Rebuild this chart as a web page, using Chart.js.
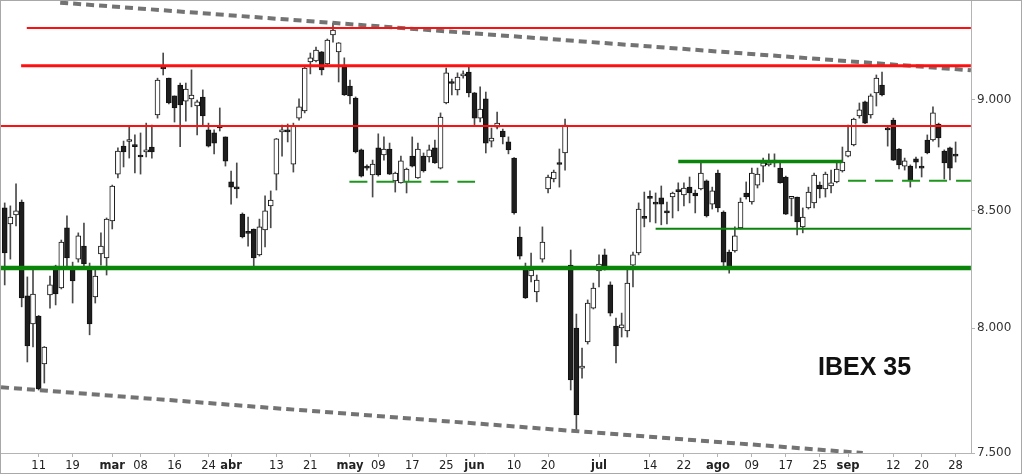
<!DOCTYPE html>
<html>
<head>
<meta charset="utf-8">
<title>IBEX 35</title>
<script src="https://cdn.jsdelivr.net/npm/chart.js@4.4.0/dist/chart.umd.min.js"></script>
<style>
  html, body { margin: 0; padding: 0; background: #fff; }
  #wrap { position: relative; width: 1024px; height: 476px; }
  #title { position: absolute; left: 818px; top: 354px; font: bold 25px/25px "Liberation Sans", Arial, sans-serif; color: #111; }
</style>
</head>
<body>
<div id="wrap">
  <canvas id="ibex" width="1024" height="476"></canvas>
  <div id="title">IBEX 35</div>
</div>
<script>
// daily candles, one per trading day (index 0 = 3 feb, 168 = 28 sep)
const opens = [8512,8442,8481,8538,8134,8017,8050,7853,8138,8260,
  8167,8425,8247,8290,8346,8243,8130,8312,8295,8455,
  8662,8788,8809,8788,8744,8762,8784,8931,9155,9102,
  9019,9070,8995,9005,8972,9014,8862,8848,8875,8830,
  8627,8598,8485,8403,8420,8308,8416,8521,8662,8853,
  8855,8707,8916,8949,9179,9183,9226,9169,9307,9226,
  9155,9065,9009,8771,8698,8658,8780,8748,8775,8632,
  8623,8627,8743,8645,8743,8739,8780,8689,8986,9079,
  9047,9112,9131,9033,8916,9005,8811,8875,8857,8807,
  8734,8385,8252,8218,8151,8290,8596,8640,8712,8757,
  8264,8000,7836,7943,8083,8239,8308,8180,8008,8000,
  7988,8264,8316,8468,8560,8534,8556,8492,8560,8591,
  8569,8604,8578,8596,8632,8529,8667,8494,8320,8325,
  8425,8578,8538,8613,8698,8703,8725,8689,8649,8554,
  8560,8429,8512,8534,8613,8596,8609,8627,8676,8743,
  8793,8926,8991,8931,9033,9070,8871,8907,8775,8698,
  8698,8730,8694,8816,8816,8889,8766,8780,8746];
const highs = [8534,8521,8618,8547,8214,8243,8052,7924,8218,8264,
  8372,8477,8277,8403,8446,8273,8256,8403,8468,8613,
  8780,8811,8875,8839,8848,8893,8884,9102,9221,9102,
  9019,9079,9079,9141,9000,9047,8893,8862,8963,8830,
  8676,8712,8490,8472,8420,8463,8565,8587,8823,8884,
  8889,8893,9005,9155,9221,9249,9228,9288,9365,9271,
  9198,9093,9014,8775,8703,8725,8844,8830,8802,8671,
  8743,8689,8830,8802,8757,8793,8816,8940,9150,9098,
  9127,9136,9155,9035,9061,9037,8871,8944,8866,8830,
  8736,8429,8273,8316,8222,8429,8658,8680,8775,8912,
  8329,8058,7918,8117,8188,8308,8333,8193,8041,8062,
  8243,8320,8534,8582,8587,8578,8609,8538,8582,8623,
  8623,8649,8591,8712,8636,8604,8680,8499,8329,8429,
  8556,8627,8689,8689,8734,8753,8753,8712,8653,8560,
  8560,8512,8604,8667,8627,8671,8680,8712,8784,8884,
  8916,8986,8995,9028,9117,9131,8880,8916,8777,8734,
  8703,8739,8739,8839,8968,8893,8771,8784,8807];
const lows = [8180,8290,8433,8088,7861,7922,7748,7776,8083,8096,
  8163,8256,8104,8277,8256,7972,8104,8264,8222,8420,
  8645,8694,8734,8667,8662,8739,8734,8916,9117,8982,
  8898,8785,8902,8968,8839,8880,8784,8753,8857,8698,
  8529,8556,8381,8346,8256,8303,8342,8425,8591,8743,
  8807,8671,8907,8940,9122,9179,9117,9165,9273,9084,
  9021,8982,8757,8649,8680,8560,8653,8725,8660,8582,
  8621,8578,8694,8643,8671,8716,8710,8685,8982,9023,
  9023,9102,9014,8884,8898,8757,8784,8866,8798,8753,
  8485,8290,8123,8193,8109,8277,8578,8627,8604,8680,
  7748,7590,7796,7934,8079,8172,8243,8050,7857,7963,
  7963,8172,8308,8429,8451,8446,8438,8442,8468,8499,
  8521,8534,8490,8591,8472,8507,8494,8260,8230,8320,
  8420,8551,8529,8600,8627,8698,8694,8621,8483,8477,
  8394,8403,8507,8512,8556,8560,8578,8623,8671,8739,
  8789,8916,8891,8916,8972,9019,8788,8723,8685,8680,
  8604,8689,8649,8753,8811,8784,8640,8636,8716];
const closes = [8316,8472,8499,8125,7926,8142,7752,7922,8180,8142,
  8363,8295,8197,8390,8269,8017,8218,8346,8463,8609,
  8766,8762,8811,8786,8739,8766,8762,9093,9146,8986,
  8963,8977,9051,9023,8991,8926,8788,8802,8871,8720,
  8604,8596,8385,8401,8295,8429,8499,8547,8821,8862,
  8853,8880,8968,9150,9198,9235,9141,9283,9331,9269,
  9023,9019,8762,8653,8689,8707,8658,8775,8662,8667,
  8721,8685,8698,8775,8676,8771,8712,8921,9127,9077,
  9107,9122,9033,8916,8958,8802,8825,8893,8830,8771,
  8490,8303,8125,8243,8201,8363,8649,8671,8705,8884,
  7788,7649,7840,8104,8167,8269,8260,8062,7926,8013,
  8188,8308,8507,8466,8554,8529,8529,8490,8578,8584,
  8600,8578,8565,8667,8477,8587,8512,8277,8256,8390,
  8538,8560,8667,8662,8712,8712,8712,8623,8485,8556,
  8451,8472,8582,8658,8596,8662,8623,8685,8716,8766,
  8912,8954,8893,9019,9102,9023,8862,8725,8703,8721,
  8636,8716,8689,8757,8940,8825,8712,8689,8743];

// axis labels
const tickPos = [6,12,19,24,30,36,40,48,54,61,66,72,78,83,90,96,105,114,120,126,132,138,144,149,157,162,168];
const tickText = ['11','19','mar','08','16','24','abr','13','21','may','09','17','25','jun','10','20','jul','14','22','ago','09','17','25','sep','12','20','28'];
const months = ['mar','abr','may','jun','jul','ago','sep'];
const yTicks = [7500, 8000, 8500, 9000];

// support / resistance levels: price, first and last trading-day index
const redLevels = [9341, 9161, 8880];
const redFrom = [3.9, 2.9, -0.7];
const greenLevels = [8252, 8718, 8421];
const greenFrom = [-0.7, 119, 115];
const greenTo = [170.7, 148, 170.7];
const dashLevels = [8628, 8632];
const dashFrom = [60.9, 149];
const dashTo = [83.1, 170.7];
// channel lines [index, price]
const channelTop = [[9.8, 9464], [170.7, 9139]];
const channelBottom = [[-0.65, 7759], [151.6, 7500]];

const bodies = opens.map((o, i) => ({x: i, y: [Math.min(o, closes[i]), Math.max(o, closes[i])]}));
const wicks = lows.map((l, i) => ({x: i, y: [l, highs[i]]}));
const bodyColors = opens.map((o, i) => closes[i] >= o ? '#ffffff' : '#1e1e1e');

function hLine(price, from, to, color, width, dash) {
  return {
    type: 'line', data: [{x: from, y: price}, {x: to, y: price}],
    borderColor: color, borderWidth: width, borderDash: dash || [],
    pointRadius: 0, clip: 0, order: 0
  };
}

const datasets = [
  {type: 'bar', data: bodies, backgroundColor: bodyColors, borderColor: '#111', borderWidth: 1,
   borderSkipped: false, barThickness: 5, minBarLength: 2, grouped: false, order: 1},
  {type: 'bar', data: wicks, backgroundColor: '#4a4a4a', borderWidth: 0,
   barThickness: 1, grouped: false, order: 2}
];
redLevels.forEach((p, k) => datasets.push(hLine(p, redFrom[k], 170.7, '#ff1010', k == 1 ? 3 : 2)));
greenLevels.forEach((p, k) => datasets.push(hLine(p, greenFrom[k], greenTo[k], '#0a850a', [4.5, 3.5, 2][k])));
dashLevels.forEach((p, k) => datasets.push(hLine(p, dashFrom[k], dashTo[k], '#1e961e', 2, [18, 9])));
[channelTop, channelBottom].forEach(c => datasets.push({
  type: 'line', data: c.map(p => ({x: p[0], y: p[1]})),
  borderColor: '#737373', borderWidth: 4, borderDash: [8, 5],
  pointRadius: 0, clip: 0, order: 0
}));

const frame = {
  id: 'frame',
  afterDraw(chart) {
    const c = chart.ctx;
    c.save();
    c.strokeStyle = '#a8a8a8';
    c.lineWidth = 1;
    c.strokeRect(0.5, 0.5, 1021, 473);
    c.restore();
  }
};

const fmt = v => String(v).replace(/\B(?=(\d{3})+(?!\d))/g, '.');

new Chart(document.getElementById('ibex'), {
  type: 'bar',
  data: {datasets},
  options: {
    responsive: false,
    animation: false,
    devicePixelRatio: 1,
    layout: {padding: {left: 1, top: 1, right: 2, bottom: 2}},
    plugins: {legend: {display: false}, tooltip: {enabled: false}},
    scales: {
      x: {
        type: 'linear', min: -0.654, max: 170.72, offset: false,
        afterBuildTicks: s => { s.ticks = tickPos.map(v => ({value: v})); },
        afterFit: s => { s.height = 21; s.paddingLeft = 0; s.paddingRight = 0; },
        grid: {drawOnChartArea: false, drawTicks: true, tickLength: 4, color: '#b4b4b4', offset: false},
        border: {display: true, color: '#b4b4b4'},
        ticks: {
          autoSkip: false, maxRotation: 0, padding: 2, color: '#222',
          callback: (v, i) => tickText[i],
          font: ctx => ({family: 'DejaVu Sans', size: 11.5,
            weight: months.includes(tickText[ctx.index]) ? 'bold' : 'normal'})
        }
      },
      y: {
        type: 'logarithmic', position: 'right', min: 7500, max: 9472,
        afterBuildTicks: s => { s.ticks = yTicks.map(v => ({value: v})); },
        afterFit: s => { s.width = 51; s.paddingTop = 0; s.paddingBottom = 0; },
        grid: {drawOnChartArea: false, drawTicks: true, tickLength: 4, color: '#b4b4b4'},
        border: {display: true, color: '#b4b4b4'},
        ticks: {padding: 2, color: '#333', font: {family: 'DejaVu Sans', size: 12},
          callback: v => fmt(v)}
      }
    }
  },
  plugins: [frame]
});
</script>
</body>
</html>
